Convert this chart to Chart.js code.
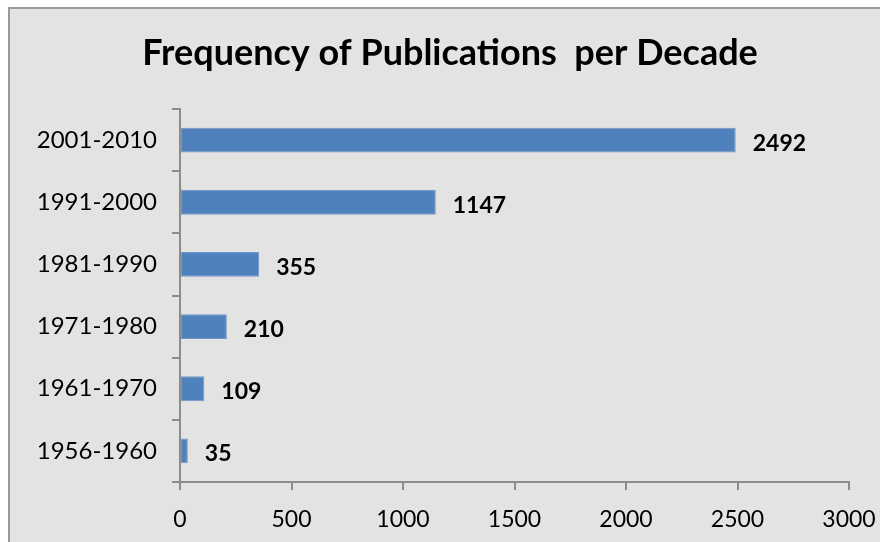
<!DOCTYPE html>
<html lang="en">
<head>
    <meta charset="UTF-8">
    <title>Frequency of Publications per Decade</title>
    <script src="https://cdn.jsdelivr.net/npm/chart.js@4.4.1/dist/chart.umd.min.js"></script>
    <style>
        html, body { margin: 0; padding: 0; background: #ffffff; }
        #wrap { width: 880px; height: 542px; position: relative; }
    </style>
</head>
<body>
    <div id="wrap"><canvas id="myChart" width="880" height="542"></canvas></div>
    <script>
        const decades = ['2001-2010', '1991-2000', '1981-1990', '1971-1980', '1961-1970', '1956-1960'];
        const publications = [2492, 1147, 355, 210, 109, 35];
        const xTicks = [0, 500, 1000, 1500, 2000, 2500, 3000];
        const chartTitle = 'Frequency of Publications  per Decade';

        const FONT = 'Lato, "Open Sans", sans-serif';
        const axisGray = '#8c8c8c';

        // gray panel with a thin frame behind everything, plus the heading
        const panel = {
            id: 'panel',
            beforeDraw(chart) {
                const ctx = chart.ctx;
                ctx.save();
                ctx.fillStyle = '#ffffff';
                ctx.fillRect(0, 0, chart.width, chart.height);
                ctx.fillStyle = '#e3e3e3';
                ctx.fillRect(8, 7, chart.width, chart.height);
                ctx.strokeStyle = '#9a9a9a';
                ctx.lineWidth = 2;
                ctx.beginPath();
                ctx.moveTo(9, chart.height + 2);
                ctx.lineTo(9, 8);
                ctx.lineTo(chart.width + 2, 8);
                ctx.stroke();

                ctx.font = 'bold 36px ' + FONT;
                ctx.fillStyle = '#000000';
                ctx.textAlign = 'center';
                ctx.textBaseline = 'middle';
                ctx.fillText(chartTitle, 450, 53);
                ctx.restore();
            }
        };

        // bold value next to the end of each bar
        const valueLabels = {
            id: 'valueLabels',
            afterDatasetsDraw(chart) {
                const ctx = chart.ctx;
                const meta = chart.getDatasetMeta(0);
                ctx.save();
                ctx.font = 'bold 23px ' + FONT;
                ctx.fillStyle = '#000000';
                ctx.textAlign = 'left';
                ctx.textBaseline = 'middle';
                meta.data.forEach((bar, i) => {
                    ctx.fillText(String(publications[i]), bar.x + 17, bar.y + 3);
                });
                ctx.restore();
            }
        };

        const ctx = document.getElementById('myChart').getContext('2d');
        const myChart = new Chart(ctx, {
            type: 'bar',
            data: {
                labels: decades,
                datasets: [{
                    data: publications,
                    backgroundColor: '#4f81bd',
                    borderColor: '#7397c8',
                    borderWidth: 1,
                    borderSkipped: false,
                    categoryPercentage: 1,
                    barPercentage: 0.4
                }]
            },
            options: {
                indexAxis: 'y',
                responsive: false,
                animation: false,
                layout: { padding: { top: 109, left: 0, right: 31, bottom: 0 } },
                plugins: {
                    legend: { display: false },
                    tooltip: { enabled: false },
                    title: { display: false }
                },
                scales: {
                    x: {
                        min: 0,
                        max: 3000,
                        afterBuildTicks(scale) {
                            scale.ticks = xTicks.map(v => ({ value: v }));
                        },
                        afterFit(scale) {
                            scale.height = 60;
                            scale.paddingLeft = 0;
                            scale.paddingRight = 0;
                        },
                        grid: {
                            drawOnChartArea: false,
                            drawTicks: true,
                            tickLength: 8,
                            color: axisGray,
                            lineWidth: 2
                        },
                        border: { color: axisGray, width: 2 },
                        ticks: {
                            color: '#000000',
                            padding: 16,
                            font: { family: FONT, size: 23 },
                            callback: (v) => String(v)
                        }
                    },
                    y: {
                        afterFit(scale) { scale.width = 180; },
                        grid: {
                            offset: true,
                            drawOnChartArea: false,
                            tickLength: 8,
                            color: axisGray,
                            lineWidth: 2
                        },
                        border: { color: axisGray, width: 2 },
                        ticks: {
                            color: '#000000',
                            padding: 15,
                            font: { family: FONT, size: 24 }
                        }
                    }
                }
            },
            plugins: [panel, valueLabels]
        });
    </script>
</body>
</html>
